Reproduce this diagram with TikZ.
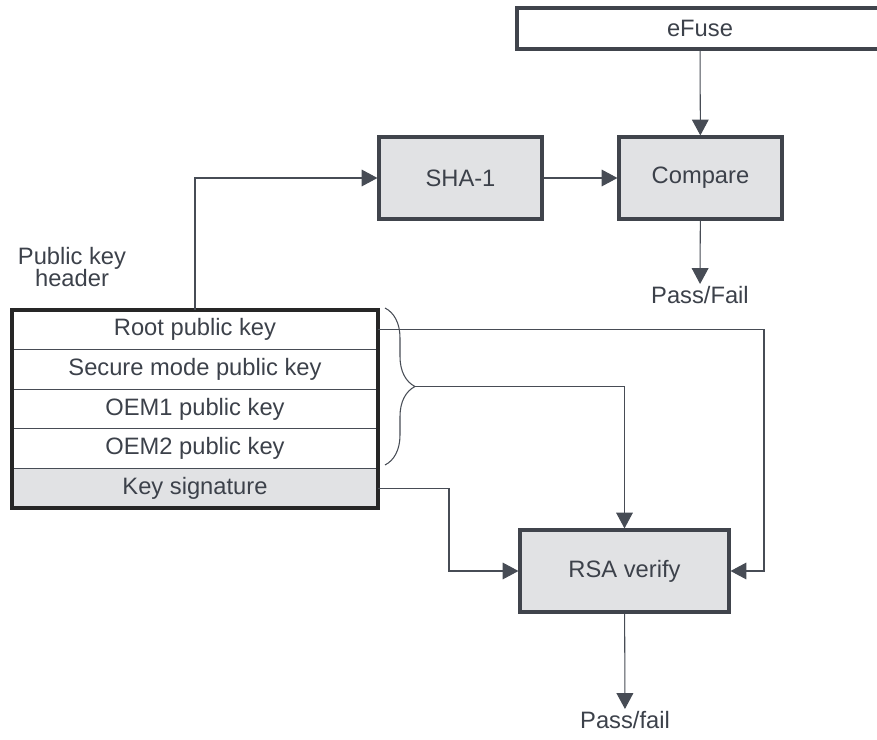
\documentclass[tikz,border=0pt]{standalone}
\usepackage{fontspec}
\setmainfont{Liberation Sans}
\usetikzlibrary{arrows.meta,decorations.pathreplacing,positioning}

\definecolor{lnc}{HTML}{474C55}
\definecolor{txc}{HTML}{3C414A}
\definecolor{boxfill}{HTML}{E1E2E4}

\begin{document}
\begin{tikzpicture}[x=0.02cm, y=-0.02cm,
  every node/.style={text=txc, font=\fontsize{13.5}{13}\selectfont},
  blk/.style={draw=lnc!90!black, line width=1.8pt, fill=boxfill, minimum width=3.26cm, minimum height=1.64cm, inner sep=0pt},
  row/.style={draw=lnc, line width=0.6pt, minimum width=7.32cm, minimum height=0.792cm, inner sep=0pt, outer sep=0pt},
  lbl/.style={inner sep=1pt},
  arr/.style={draw=lnc, line width=0.6pt, -{Triangle[length=9pt, width=9.5pt]}}]
  \useasboundingbox (0,0) rectangle (877,740);

  \node[blk, fill=white, minimum width=7.32cm, minimum height=0.82cm] (efuse) at (700,28.5) {eFuse};
  \node[blk] (sha) at (460.5,178) {SHA-1};
  \node[blk] (cmp) at (700.5,178) {Compare};
  \node[blk, minimum width=4.18cm] (rsa) at (624.5,571) {RSA verify};
  \node[lbl, anchor=north] (pf1) at (700,284) {Pass/Fail};
  \node[lbl, anchor=north] (pf2) at (625,709) {Pass/fail};
  \node[align=center] (hdr) at (72,267) {Public key\\header};

  \node[row] (r1) at (195,329.8) {Root public key};
  \node[row, below=0pt of r1] (r2) {Secure mode public key};
  \node[row, below=0pt of r2] (r3) {OEM1 public key};
  \node[row, below=0pt of r3] (r4) {OEM2 public key};
  \node[row, below=0pt of r4, fill=boxfill] (r5) {Key signature};
  \draw[line width=1.8pt, draw=black!85] (r1.north west) rectangle (r5.south east);

  \draw[draw=lnc, line width=0.6pt, decorate, decoration={brace, amplitude=0.6cm}] (385,308) -- (385,465);

  \coordinate (tt) at (195,310);
  \coordinate (bt) at (415,386.5);
  \coordinate (rr) at (764,329.8);
  \coordinate (ks) at (449,488);

  \draw[arr] (efuse) -- (cmp);
  \draw[arr] (sha) -- (cmp);
  \draw[arr] (cmp) -- (pf1);
  \draw[arr] (tt) |- (sha);
  \draw[arr] (bt) -| (rsa);
  \draw[arr] (r1.east) -- (r1.east -| rr) |- (rsa);
  \draw[arr] (r5.east) -- (r5.east -| ks) |- (rsa);
  \draw[arr] (rsa) -- (pf2);
\end{tikzpicture}
\end{document}
